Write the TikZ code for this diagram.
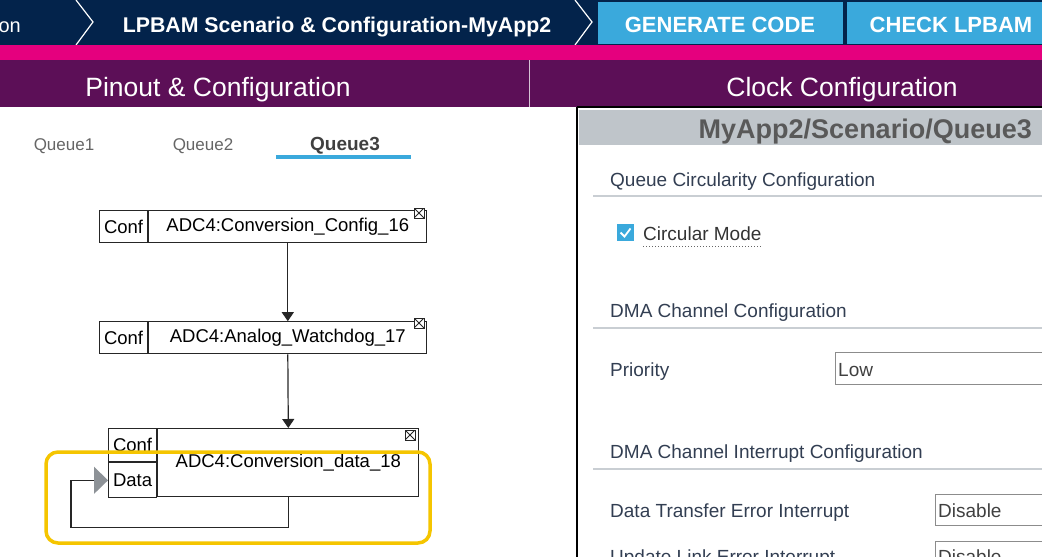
\documentclass[tikz,border=0pt]{standalone}
\usepackage{fontspec}
\setmainfont{Liberation Sans}
\usetikzlibrary{arrows.meta,positioning}

\definecolor{navy}{HTML}{03234B}
\definecolor{stblue}{HTML}{3AA9DC}
\definecolor{stpink}{HTML}{E5007E}
\definecolor{plum}{HTML}{5C0F57}
\definecolor{hdrgray}{HTML}{BFC5CA}
\definecolor{slate}{HTML}{323E52}
\definecolor{rulegray}{HTML}{C9CED3}
\definecolor{gold}{HTML}{F5C500}
\definecolor{tipgray}{HTML}{8D9297}

\newcommand{\fsz}[1]{\fontsize{#1}{#1}\selectfont}

\begin{document}
\begin{tikzpicture}[x=1pt,y=-1pt,
  conf/.style={draw=black!85, line width=1.2pt, inner sep=0pt, minimum width=48pt, minimum height=32pt, font=\fsz{18.5}},
  mainbox/.style={draw=black!85, line width=1.2pt, inner sep=0pt, minimum width=278pt, minimum height=32pt, font=\fsz{18.5}},
  closebox/.style={draw=black!85, line width=0.8pt, minimum size=10pt, inner sep=0pt, fill=white,
    path picture={\draw[line width=0.8pt] (path picture bounding box.north west) -- (path picture bounding box.south east)
      (path picture bounding box.north east) -- (path picture bounding box.south west);}},
  flow/.style={line width=1.2pt, black!85, -{Triangle[width=12pt,length=9pt]}},
  panel/.style={anchor=base west, text=slate, font=\fsz{19}, inner sep=0pt},
  field/.style={draw=black!45, line width=1pt, fill=white, anchor=north west, inner sep=0pt}]

\useasboundingbox (0,0) rectangle (1042,557);
\clip (0,0) rectangle (1042,557);

% top bar
\fill[navy] (0,0) rectangle (1042,45);
\draw[white, line width=1.2pt] (76,0) -- (93,22) -- (76,45);
\draw[white, line width=1.2pt] (575,0) -- (592,22) -- (575,45);
\fill[stblue] (598,2) rectangle (843,44);
\fill[stblue] (847,2) rectangle (1042,44);
\node[anchor=base east, white, font=\fsz{20}, inner sep=0pt] (crumb) at (21,32) {on};
\node[anchor=base, white, font=\bfseries\fsz{21.3}, inner sep=0pt] (title) at (337,32) {LPBAM Scenario \& Configuration-MyApp2};
\node[anchor=base, white, font=\bfseries\fsz{22}, inner sep=0pt] (gen) at (720,32) {GENERATE CODE};
\node[anchor=base, white, font=\bfseries\fsz{22}, inner sep=0pt] (check) at (951,32) {CHECK LPBAM};

% pink strip and purple bar
\fill[stpink] (0,45) rectangle (1042,60);
\fill[plum] (0,60) rectangle (1042,107);
\draw[white!75!plum, line width=1pt] (529,60) -- (529,107);
\node[anchor=base, white, font=\fsz{26.5}, inner sep=0pt] (pinout) at (218,96) {Pinout \& Configuration};
\node[anchor=base, white, font=\fsz{26.5}, inner sep=0pt] (clock) at (842,96) {Clock Configuration};

% queue tabs
\node[anchor=base, text=black!60, font=\fsz{17}, inner sep=0pt] (q1) at (64,150) {Queue1};
\node[anchor=base, text=black!60, font=\fsz{17}, inner sep=0pt] (q2) at (203,150) {Queue2};
\node[anchor=base, text=black!75, font=\bfseries\fsz{19}, inner sep=0pt] (q3) at (345,150) {Queue3};
\fill[stblue] (276,155) rectangle (411,159);
\node[fill=stblue, minimum width=59pt, minimum height=37pt, inner sep=0pt, anchor=north west, white, font=\fsz{17}] (plus) at (458,123) {+};
\node[fill=stblue, minimum width=55pt, minimum height=37pt, inner sep=0pt, anchor=north west, white, font=\fsz{17}] (minus) at (520,123) {-};

% the queue
\node[conf, anchor=north west] (c1) at (99,210) {Conf};
\node[mainbox, right=0pt of c1] (m1) {ADC4:Conversion\_Config\_16};
\node[conf, below=78pt of c1] (c2) {Conf};
\node[mainbox, right=0pt of c2] (m2) {ADC4:Analog\_Watchdog\_17};
\node[conf, anchor=north west, minimum height=33pt] (c3) at (108,428) {Conf};
\node[conf, below=0pt of c3, minimum height=35pt] (d3) {Data};
\node[mainbox, anchor=north west, minimum width=261pt, minimum height=68pt] (m3) at (c3.north east) {ADC4:Conversion\_data\_18};
\node[closebox] (x1) at (419,213) {};
\node[closebox] (x2) at (419,323) {};
\node[closebox] (x3) at (410,435) {};

\draw[flow] (m1.south) -- (m2.north);
\draw[flow] (m2.south) -- (m3.north);
\draw[line width=1.2pt, black!85, -{Triangle[width=27pt,length=14pt,color=tipgray]}]
  (m3.south) -- ++(0,30) -| ([xshift=-37pt]d3.west) -- (d3.west);

% highlight
\draw[gold, line width=3.5pt, rounded corners=12pt] (46,452) rectangle (430,543);

% right panel
\draw[line width=2.5pt] (577,107) -- (1042,107);
\draw[line width=2.5pt] (577,107) -- (577,557);
\fill[hdrgray] (579,110) rectangle (1042,145);
\node[anchor=base east, text=black!65, font=\bfseries\fsz{27}, inner sep=0pt] (crumbpath) at (1032,138) {MyApp2/Scenario/Queue3};

\node[panel] (circ) at (610,186) {Queue Circularity Configuration};
\draw[rulegray, line width=1.2pt] (593,196) -- (1042,196);
\node[fill=stblue, minimum size=17pt, inner sep=0pt] (tick) at (625.5,232.5) {};
\draw[white, line width=1.8pt] ([xshift=-5pt]tick.center) -- ++(4,4) -- ++(6,-8);
\node[panel, text=black!80] (mode) at (643,240) {Circular Mode};
\draw[black!60, line width=1pt, dotted] (643,246) -- (762,246);

\node[panel] (dma) at (610,317) {DMA Channel Configuration};
\draw[rulegray, line width=1.2pt] (593,328) -- (1042,328);
\node[panel] (prio) at (610,376) {Priority};
\node[field, minimum width=215pt, minimum height=32pt] (priofield) at (835,352) {};
\node[panel, text=black!75] (low) at (838,376) {Low};

\node[panel] (dmairq) at (610,458) {DMA Channel Interrupt Configuration};
\draw[rulegray, line width=1.2pt] (593,469) -- (1042,469);
\node[panel] (dte) at (610,517) {Data Transfer Error Interrupt};
\node[field, minimum width=115pt, minimum height=31pt] (dtefield) at (935,494) {};
\node[panel, text=black!75] (dteval) at (938,517) {Disable};
\node[panel] (ule) at (610,563) {Update Link Error Interrupt};
\node[field, minimum width=115pt, minimum height=31pt] (ulefield) at (935,541) {};
\node[panel, text=black!75] (uleval) at (938,563) {Disable};

\end{tikzpicture}
\end{document}
